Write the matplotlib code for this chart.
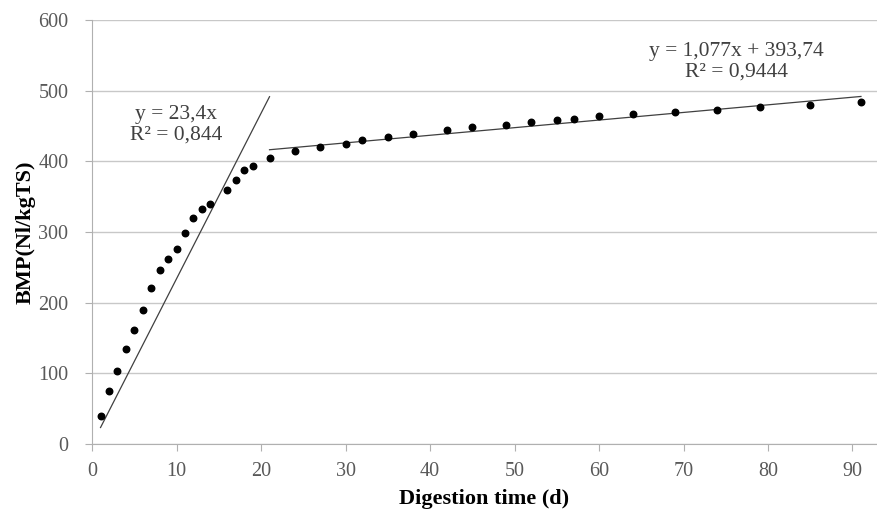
import numpy as np
import matplotlib
matplotlib.use('Agg')
import matplotlib.pyplot as plt

days = [1, 2, 3, 4, 5, 6, 7, 8, 9, 10, 11, 12, 13, 14, 16, 17, 18, 19, 21,
        24, 27, 30, 32, 35, 38, 42, 45, 49, 52, 55, 57, 60, 64, 69, 74, 79, 85, 91]
bmp = [39, 75, 103, 135, 162, 190, 221, 246, 262, 276, 299, 320, 332, 339, 360, 373, 387, 394, 405,
       415, 420, 425, 430, 435, 439, 444, 449, 452, 456, 458, 460, 464, 467, 470, 473, 477, 480, 484]

# trendlines as printed on the chart
fit1_slope = 23.4
fit1_range = [1, 21]
fit2_slope, fit2_icpt = 1.077, 393.74
fit2_range = [21, 91]

plt.rcParams['font.family'] = ['Liberation Serif', 'DejaVu Serif']

fig = plt.figure(figsize=(8.77, 5.11), dpi=100)
ax = fig.add_axes([0.105, 0.131, 0.895, 0.830])

ax.scatter(days, bmp, s=22, color='black', zorder=3)

x1 = np.array(fit1_range)
ax.plot(x1, fit1_slope * x1, color='#404040', lw=0.9, zorder=2)
x2 = np.array(fit2_range)
ax.plot(x2, fit2_slope * x2 + fit2_icpt, color='#404040', lw=0.9, zorder=2)

ax.text(9.9, 452, 'y = 23,4x\nR² = 0,844', ha='center', va='center',
        fontsize=15.5, color='#404040', linespacing=1.1)
ax.text(76.3, 541, 'y = 1,077x + 393,74\nR² = 0,9444', ha='center', va='center',
        fontsize=15.5, color='#404040', linespacing=1.1)

ax.set_xlim(0, 92.9)
ax.set_ylim(0, 600)
ax.set_xticks(range(0, 91, 10))
ax.set_yticks(range(0, 601, 100))
ax.grid(axis='y', color='#c8c8c8', lw=1)
ax.set_axisbelow(True)
for s in ['top', 'right']:
    ax.spines[s].set_visible(False)
for s in ['left', 'bottom']:
    ax.spines[s].set_color('#b0b0b0')
ax.tick_params(colors='#b0b0b0', labelcolor='#595959', labelsize=14.5, length=5)
ax.tick_params(axis='x', pad=8)
ax.tick_params(axis='y', pad=12)

ax.set_xlabel('Digestion time (d)', fontsize=16, fontweight='bold', labelpad=6)
ax.set_ylabel('BMP(Nl/kgTS)', fontsize=16, fontweight='bold', labelpad=2)

fig.savefig('out.png', dpi=100)
